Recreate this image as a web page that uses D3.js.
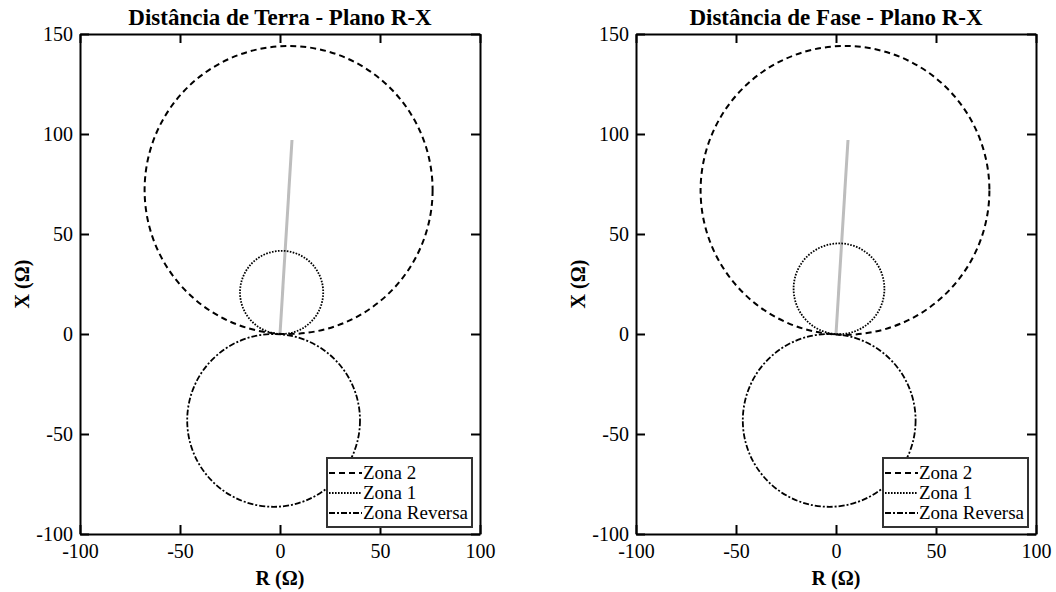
<!DOCTYPE html>
<html><head><meta charset="utf-8">
<script src="https://cdn.jsdelivr.net/npm/d3@7"></script>
<style>body{margin:0;background:#fff}svg{display:block}text{font-family:"Liberation Serif","Times New Roman",serif;fill:#000}</style>
</head><body>
<svg id="c" width="1056" height="592"></svg>
<script>
const panelTitles = ["Distância de Terra - Plano R-X", "Distância de Fase - Plano R-X"];
const xTicks = [-100, -50, 0, 50, 100];
const yTicks = [-100, -50, 0, 50, 100, 150];
const legendLabels = ["Zona 2", "Zona 1", "Zona Reversa"];
// circles: [centerR, centerX, radius] per panel
const zona2 = [[4.3, 72, 72], [4.5, 71.8, 72.2]];
const zona1 = [[0.8, 20.8, 20.8], [1.5, 22.6, 22.7]];
const zonaRev = [[-3.2, -43.2, 43.2], [-3.4, -43.2, 43.2]];
// line impedance segment [[R0,X0],[R1,X1]]
const linha = [[[0, 0], [6, 97]], [[0, 0], [6, 97]]];

const svg = d3.select("#c");
const panels = [{x0: 80, x1: 480}, {x0: 636, x1: 1036}];
const styles = [
  {dash: "6,4", w: 2},
  {dash: "1.6,1.4", w: 1.8},
  {dash: "6,2,2,2", w: 1.8}
];

panels.forEach((p, i) => {
  const x = d3.scaleLinear().domain([-100, 100]).range([p.x0, p.x1]);
  const y = d3.scaleLinear().domain([-100, 150]).range([534, 34]);
  const g = svg.append("g");
  const rs = r => x(r) - x(0);

  g.append("path").datum(linha[i])
    .attr("d", d3.line().x(d => x(d[0])).y(d => y(d[1])))
    .attr("stroke", "#bdbdbd").attr("stroke-width", 3).attr("fill", "none");

  const sets = [zona2[i], zona1[i], zonaRev[i]];
  sets.forEach((c, k) => {
    g.append("circle").attr("cx", x(c[0])).attr("cy", y(c[1])).attr("r", rs(c[2]))
      .attr("fill", "none").attr("stroke", "#000")
      .attr("stroke-width", styles[k].w).attr("stroke-dasharray", styles[k].dash);
  });

  const fmt = d => String(d);
  const ax = [
    d3.axisBottom(x).tickValues(xTicks).tickSizeInner(-9).tickSizeOuter(0).tickFormat(fmt),
    d3.axisTop(x).tickValues(xTicks).tickSizeInner(-9).tickSizeOuter(0).tickFormat(""),
    d3.axisLeft(y).tickValues(yTicks).tickSizeInner(-9).tickSizeOuter(0).tickFormat(fmt),
    d3.axisRight(y).tickValues(yTicks).tickSizeInner(-9).tickSizeOuter(0).tickFormat("")
  ];
  const tr = [`translate(0,534)`, `translate(0,34)`, `translate(${p.x0},0)`, `translate(${p.x1},0)`];
  ax.forEach((a, k) => {
    const ag = g.append("g").attr("transform", tr[k]).call(a);
    ag.attr("font-family", null);
    ag.select(".domain").attr("stroke", "#000").attr("stroke-width", 2);
    ag.selectAll(".tick line").attr("stroke", "#000").attr("stroke-width", 2);
    ag.selectAll(".tick text").attr("font-size", 20).attr("fill", "#000");
    if (k === 0) ag.selectAll(".tick text").attr("dy", "0.71em").attr("y", 10);
    if (k === 2) ag.selectAll(".tick text").attr("x", -7).attr("dy", "0.34em");
  });

  g.append("text").attr("x", (p.x0 + p.x1) / 2).attr("y", 25).attr("text-anchor", "middle")
    .attr("font-size", 23).attr("font-weight", "bold").text(panelTitles[i]);
  g.append("text").attr("x", (p.x0 + p.x1) / 2).attr("y", 585).attr("text-anchor", "middle")
    .attr("font-size", 20).attr("font-weight", "bold").text("R (Ω)");
  g.append("text").attr("transform", `translate(${p.x0 - 51},284) rotate(-90)`).attr("text-anchor", "middle")
    .attr("font-size", 20).attr("font-weight", "bold").text("X (Ω)");

  const lx = p.x1 - 153, ly = 458;
  const lg = g.append("g");
  lg.append("rect").attr("x", lx).attr("y", ly).attr("width", 145).attr("height", 69)
    .attr("fill", "#fff").attr("stroke", "#333").attr("stroke-width", 2);
  legendLabels.forEach((lab, k) => {
    const yy = ly + 15 + k * 20;
    lg.append("line").attr("x1", lx + 2).attr("x2", lx + 35).attr("y1", yy).attr("y2", yy)
      .attr("stroke", "#000").attr("stroke-width", styles[k].w).attr("stroke-dasharray", styles[k].dash);
    lg.append("text").attr("x", lx + 36).attr("y", yy).attr("dy", "0.33em")
      .attr("font-size", 19).text(lab);
  });
});
</script>
</body></html>
